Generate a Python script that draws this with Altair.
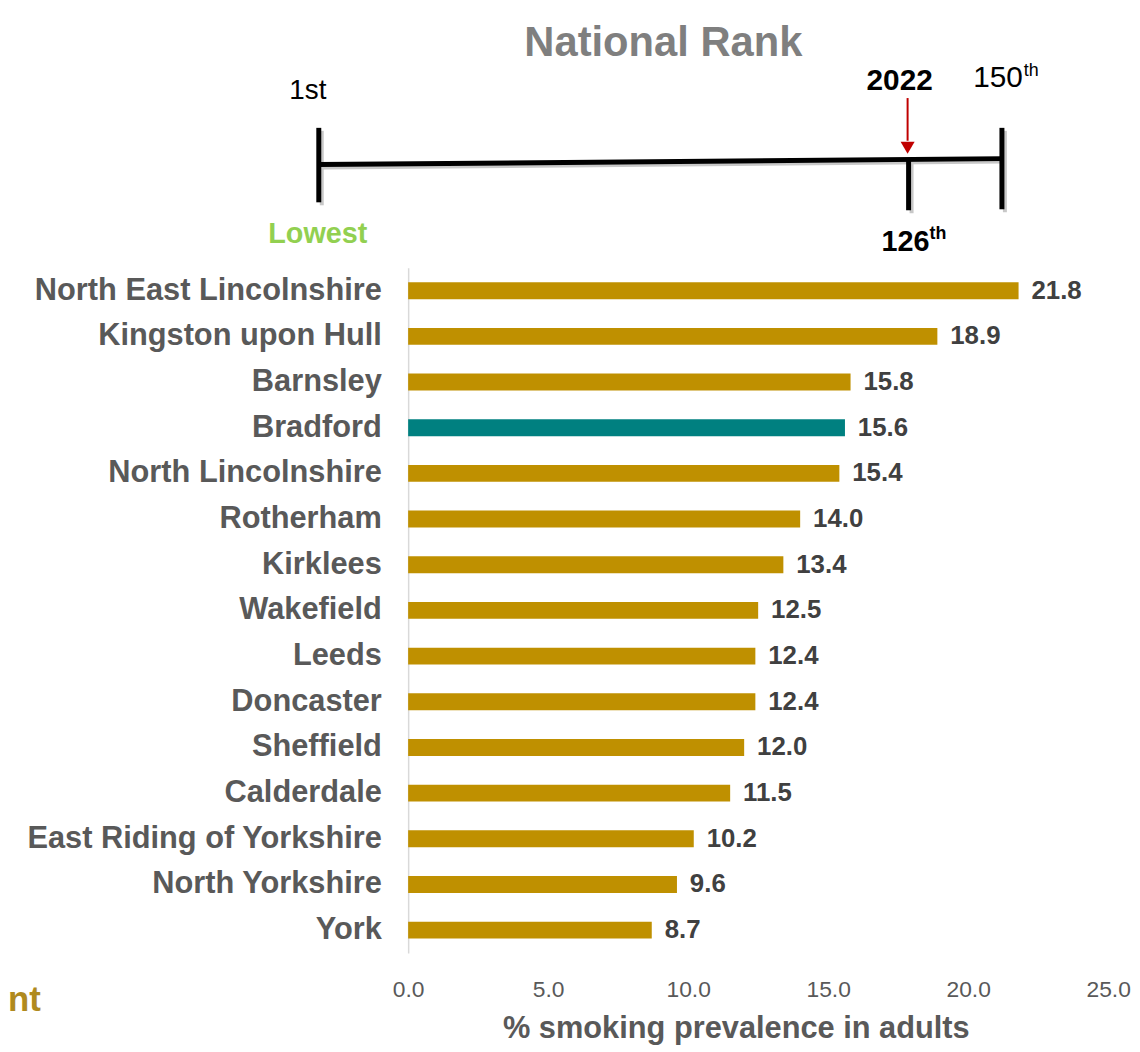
import altair as alt
import pandas as pd

areas = [
    "North East Lincolnshire", "Kingston upon Hull", "Barnsley", "Bradford",
    "North Lincolnshire", "Rotherham", "Kirklees", "Wakefield", "Leeds",
    "Doncaster", "Sheffield", "Calderdale", "East Riding of Yorkshire",
    "North Yorkshire", "York",
]
prevalence = [21.8, 18.9, 15.8, 15.6, 15.4, 14.0, 13.4, 12.5, 12.4, 12.4, 12.0, 11.5, 10.2, 9.6, 8.7]
x_ticks = [0, 5, 10, 15, 20, 25]
highlight = "Bradford"

df = pd.DataFrame({"area": areas, "value": prevalence})

FONT = "Liberation Sans"
GOLD = "#bf9000"
TEAL = "#008080"

y_enc = alt.Y(
    "area:N",
    sort=areas,
    scale=alt.Scale(paddingInner=0.63, paddingOuter=0.315),
    axis=alt.Axis(
        title=None, ticks=False, domain=True, domainColor="#d9d9d9", domainWidth=1.5,
        labelFont=FONT, labelFontSize=31, labelFontWeight="bold", labelColor="#595959",
        labelPadding=27, labelLimit=500, grid=False,
    ),
)
x_enc = alt.X(
    "value:Q",
    scale=alt.Scale(domain=[0, 25], nice=False),
    axis=alt.Axis(
        values=x_ticks, format=".1f", title="% smoking prevalence in adults",
        ticks=False, domain=False, grid=False,
        labelFont=FONT, labelFontSize=23, labelColor="#595959", labelPadding=26,
        titleFont=FONT, titleFontSize=31, titleFontWeight="bold", titleColor="#595959",
        titleX=330, titleY=61, labelFlush=False,
    ),
)

bars = alt.Chart(df).mark_bar().encode(
    y=y_enc,
    x=x_enc,
    color=alt.condition(alt.datum.area == highlight, alt.value(TEAL), alt.value(GOLD)),
)
values = alt.Chart(df).mark_text(
    align="left", baseline="middle", dx=13, font=FONT, fontSize=26,
    fontWeight="bold", color="#404040",
).encode(y=alt.Y("area:N", sort=areas), x="value:Q", text=alt.Text("value:Q", format=".1f"))

one = alt.Data(values=[{"k": 1}])


def txt(t, x, y, size, weight="normal", color="black", align="center"):
    return alt.Chart(one).mark_text(
        font=FONT, fontSize=size, fontWeight=weight, color=color,
        align=align, baseline="middle",
    ).encode(x=alt.value(x), y=alt.value(y), text=alt.value(t))


def rule(x, x2, y, y2, color="black", width=5):
    return alt.Chart(one).mark_rule(color=color, strokeWidth=width).encode(
        x=alt.value(x), x2=alt.value(x2), y=alt.value(y), y2=alt.value(y2)
    )


annot = [
    txt("National Rank", 257, -226, 42, "bold", "#7f7f7f"),
    txt("1st", -101, -178, 28),
    txt("2022", 495, -188, 30, "bold"),
    txt("150", 594, -191, 30),
    txt("th", 620, -198, 18, align="left"),
    txt("Lowest", -91, -34, 29, "bold", "#92d050"),
    txt("126", 501, -26, 29, "bold"),
    txt("th", 525, -34, 18, "bold", align="left"),
    txt("nt", -403, 737, 35, "bold", "#b08a1e", align="left"),
    # shadows
    rule(-87, 601, -101, -107, "#c8c8c8", 4),
    rule(-87, -87, -138, -63, "#c8c8c8", 4),
    rule(507, 507, -106, -55, "#c8c8c8", 4),
    rule(601, 601, -138, -56, "#c8c8c8", 4),
    # lines
    rule(-90, 598, -104, -110),
    rule(-90, -90, -141, -66),
    rule(504, 504, -109, -58),
    rule(598, 598, -141, -59),
    rule(503, 503, -171, -128, "#c00000", 2),
    alt.Chart(one).mark_point(shape="triangle-down", filled=True, color="#c00000", size=200, opacity=1).encode(
        x=alt.value(503), y=alt.value(-121)
    ),
]

chart = alt.layer(bars, values, *annot).properties(
    width=705,
    height=690,
    autosize=alt.AutoSizeParams(type="none"),
    padding={"left": 403, "top": 258, "right": 24, "bottom": 92},
).configure(background="white", view=alt.ViewConfig(stroke=None))

chart.save("out.html", embed_options={"renderer": "svg", "actions": False})
